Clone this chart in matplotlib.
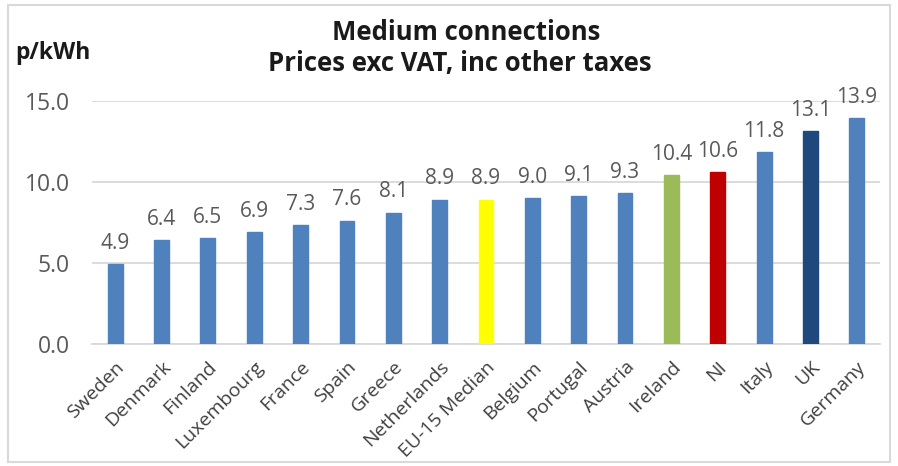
import matplotlib
matplotlib.use("Agg")
import matplotlib.pyplot as plt
from matplotlib.patches import Rectangle

plt.rcParams['font.family'] = ['Open Sans', 'DejaVu Sans']

# data
countries = ['Sweden', 'Denmark', 'Finland', 'Luxembourg', 'France', 'Spain',
             'Greece', 'Netherlands', 'EU-15 Median', 'Belgium', 'Portugal',
             'Austria', 'Ireland', 'NI', 'Italy', 'UK', 'Germany']
prices = [4.9, 6.4, 6.5, 6.9, 7.3, 7.6, 8.1, 8.9, 8.9, 9.0, 9.1, 9.3,
          10.4, 10.6, 11.8, 13.1, 13.9]
yticks = [0.0, 5.0, 10.0, 15.0]

# highlighted bars
blue = '#4f81bd'
special = {'EU-15 Median': '#ffff00', 'Ireland': '#9bbb59',
           'NI': '#c00000', 'UK': '#1f497d'}
colors = [special.get(c, blue) for c in countries]

fig = plt.figure(figsize=(8.98, 4.66), dpi=100)
ax = fig.add_axes([92/898, 1 - 344/466, 788/898, 243.5/466])

x = range(len(countries))
ax.bar(x, prices, width=0.32, color=colors, edgecolor=colors, zorder=3)

for i, v in enumerate(prices):
    ax.annotate('%.1f' % v, (i, v), xytext=(0, 15), textcoords='offset points',
                ha='center', va='center', fontsize=15, color='#595959',
                annotation_clip=False)

ax.set_xlim(-0.5, len(countries) - 0.5)
ax.set_ylim(0, 15)
ax.set_yticks(yticks)
ax.set_yticklabels(['%.1f' % t for t in yticks])
ax.set_xticks(list(x))
ax.set_xticklabels(countries, rotation=45, ha='right', rotation_mode='anchor',
                   fontsize=14, color='#404040')
ax.tick_params(axis='y', length=0, pad=16, labelsize=16.5, labelcolor='#595959')
ax.tick_params(axis='x', length=0, pad=10)
ax.grid(axis='y', color='#d9d9d9', linewidth=1.3, zorder=0)
ax.set_axisbelow(True)
for s in ['top', 'right', 'left']:
    ax.spines[s].set_visible(False)
ax.spines['bottom'].set_color('#d9d9d9')
ax.spines['bottom'].set_linewidth(1.3)

fig.text(466/898, 1 - 32/466, 'Medium connections', ha='center', va='center',
         fontsize=18.5, fontweight='bold', color='#1a1a1a')
fig.text(460/898, 1 - 63/466, 'Prices exc VAT, inc other taxes', ha='center',
         va='center', fontsize=18.5, fontweight='bold', color='#1a1a1a')
fig.text(15/898, 1 - 53/466, 'p/kWh', ha='left', va='center',
         fontsize=16.5, fontweight='bold', color='#1a1a1a')

# outer frame of the chart area
fig.patches.append(Rectangle((8/898, 4/466), 882/898, 457/466,
                             transform=fig.transFigure, fill=False,
                             edgecolor='#d9d9d9', linewidth=1.5))

fig.savefig('out.png', dpi=100)
